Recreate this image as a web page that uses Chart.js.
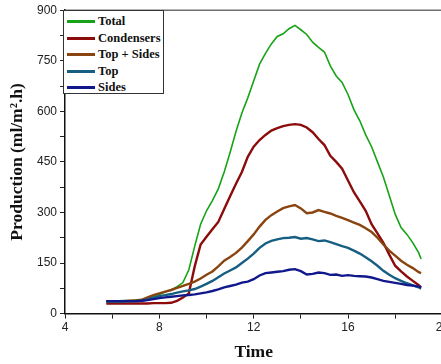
<!DOCTYPE html>
<html>
<head>
<meta charset="utf-8">
<script src="https://cdn.jsdelivr.net/npm/chart.js@4.4.0/dist/chart.umd.min.js"></script>
<style>
  html, body { margin: 0; padding: 0; background: #fff; overflow: hidden; }
  #wrap { position: relative; width: 451px; height: 364px; }
  #legenda {
    position: absolute; left: 63px; top: 10px; width: 101px; height: 84px;
    border: 1px solid #333; background: #fff; box-sizing: border-box;
    font-family: "Liberation Serif", "Times New Roman", serif; font-weight: bold; font-size: 12.5px;
  }
  .item { position: absolute; left: 0; height: 14px; line-height: 14px; white-space: nowrap; }
  .item span.linha { position: absolute; left: 3px; top: 6px; width: 28px; height: 3px; }
  .item span.txt { position: absolute; left: 34px; top: 0; color: #111; }
</style>
</head>
<body>
<div id="wrap">
  <canvas id="graf_producao"></canvas>
  <div id="legenda"></div>
</div>
<script>
// tempo (h)
const tempos = [5.75, 6, 6.25, 6.5, 6.75, 7, 7.25, 7.5, 7.75, 8, 8.25, 8.5, 8.75, 9, 9.25, 9.5, 9.75,
  10, 10.25, 10.5, 10.75, 11, 11.25, 11.5, 11.75, 12, 12.25, 12.5, 12.75, 13, 13.25, 13.5, 13.75,
  14, 14.25, 14.5, 14.75, 15, 15.25, 15.5, 15.75, 16, 16.25, 16.5, 16.75, 17, 17.25, 17.5, 17.75,
  18, 18.25, 18.5, 18.75, 19, 19.1];

const nomesSeries = ["Total", "Condensers", "Top + Sides", "Top", "Sides"];

const vt_Total = [38, 38, 38, 39, 39, 40, 41, 45, 52, 57, 64, 70, 80, 92, 130, 200, 265,
  305, 335, 370, 420, 478, 540, 595, 640, 690, 740, 772, 800, 822, 830, 845, 855,
  842, 828, 805, 790, 776, 735, 705, 686, 650, 605, 572, 530, 495, 450, 405, 350,
  295, 255, 235, 210, 180, 162];

const vt_Condensers = [30, 30, 30, 30, 30, 30, 30, 30, 31, 31, 31, 32, 38, 48, 60, 140, 205,
  228, 250, 272, 310, 348, 385, 420, 465, 495, 515, 530, 543, 550, 556, 560, 562,
  560, 552, 538, 518, 500, 468, 450, 430, 395, 360, 333, 305, 265, 238, 210, 175,
  142, 125, 110, 97, 84, 78];

const vt_TopSides = [36, 36, 37, 37, 38, 39, 41, 48, 55, 60, 65, 70, 76, 82, 88, 95, 104,
  115, 125, 140, 157, 168, 180, 196, 215, 235, 258, 278, 292, 303, 313, 318, 322,
  312, 298, 300, 307, 302, 297, 290, 284, 277, 270, 263, 253, 242, 225, 205, 187,
  172, 157, 145, 135, 123, 120];

const vt_Top = [36, 36, 36, 36, 37, 37, 38, 42, 47, 52, 55, 58, 62, 66, 69, 73, 80,
  88, 97, 108, 119, 128, 137, 150, 163, 178, 195, 208, 216, 220, 224, 225, 227,
  222, 224, 220, 215, 217, 212, 206, 200, 195, 187, 178, 167, 155, 142, 127, 115,
  105, 97, 90, 84, 78, 74];

const vt_Sides = [37, 37, 37, 37, 37, 37, 38, 40, 43, 46, 48, 50, 52, 54, 55, 57, 60,
  63, 67, 72, 78, 82, 86, 92, 95, 102, 113, 120, 122, 124, 126, 130, 132,
  126, 116, 118, 122, 120, 115, 116, 112, 114, 112, 111, 110, 107, 102, 97, 94,
  91, 88, 85, 83, 80, 78];

const valoresSeries = [vt_Total, vt_Condensers, vt_TopSides, vt_Top, vt_Sides];
const coresSeries = ["#17a317", "#8c0c0c", "#8a4410", "#175f82", "#10188c"];
const largurasSeries = [1.6, 2.4, 2.4, 2.4, 2.4];

// legenda em html
const legenda = document.getElementById("legenda");
for (let i = 0; i < nomesSeries.length; i++) {
  legenda.innerHTML += `
    <div class="item" style="top:${3 + i * 16.5}px">
      <span class="linha" style="background:${coresSeries[i]}"></span>
      <span class="txt">${nomesSeries[i]}</span>
    </div>`;
}

// datasets (Total desenhado por cima)
const datasets = [];
for (let i = nomesSeries.length - 1; i >= 0; i--) {
  datasets.push({
    label: nomesSeries[i],
    data: tempos.map((t, j) => ({ x: t, y: valoresSeries[i][j] })),
    borderColor: coresSeries[i],
    backgroundColor: coresSeries[i],
    borderWidth: largurasSeries[i],
    pointRadius: 0,
    tension: 0,
  });
}

// moldura cinza em cima e à direita
const moldura = {
  id: "moldura",
  afterDraw(chart) {
    const { ctx, chartArea } = chart;
    ctx.save();
    ctx.strokeStyle = "#6e6e6e";
    ctx.lineWidth = 1.5;
    ctx.beginPath();
    ctx.moveTo(chartArea.left, chartArea.top);
    ctx.lineTo(chartArea.right, chartArea.top);
    ctx.lineTo(chartArea.right, chartArea.bottom);
    ctx.stroke();
    ctx.restore();
  },
};

const fonteTicks = { family: "'Liberation Sans', Arial, sans-serif", size: 12 };
const fonteTitulo = { family: "'Liberation Serif', 'Times New Roman', serif", size: 17.5, weight: "bold" };

new Chart(document.getElementById("graf_producao"), {
  type: "line",
  data: { datasets: datasets },
  options: {
    responsive: true,
    maintainAspectRatio: false,
    animation: false,
    layout: { padding: { top: 4, right: 0, left: 7, bottom: 0 } },
    plugins: { legend: { display: false }, tooltip: { enabled: false } },
    scales: {
      x: {
        type: "linear",
        min: 4,
        max: 20,
        ticks: {
          stepSize: 2,
          color: "#222",
          font: fonteTicks,
          padding: 2,
          maxRotation: 0,
          callback: (v) => (v % 4 === 0 ? v : ""),
        },
        grid: { drawOnChartArea: false, drawTicks: true, tickLength: 5, color: "#222" },
        border: { display: true, color: "#111", width: 1.5 },
        title: { display: true, text: "Time", color: "#111", font: fonteTitulo, padding: { top: 5, bottom: 1 } },
      },
      y: {
        min: 0,
        max: 900,
        ticks: {
          stepSize: 75,
          color: "#222",
          font: fonteTicks,
          padding: 3,
          callback: (v) => (v % 150 === 0 ? v : ""),
        },
        grid: { drawOnChartArea: false, drawTicks: true, tickLength: 5, color: "#222" },
        border: { display: true, color: "#111", width: 1.5 },
        title: { display: true, text: "Production (ml/m².h)", color: "#111", font: fonteTitulo, padding: { top: 0, bottom: 6 } },
      },
    },
  },
  plugins: [moldura],
});
</script>
</body>
</html>
